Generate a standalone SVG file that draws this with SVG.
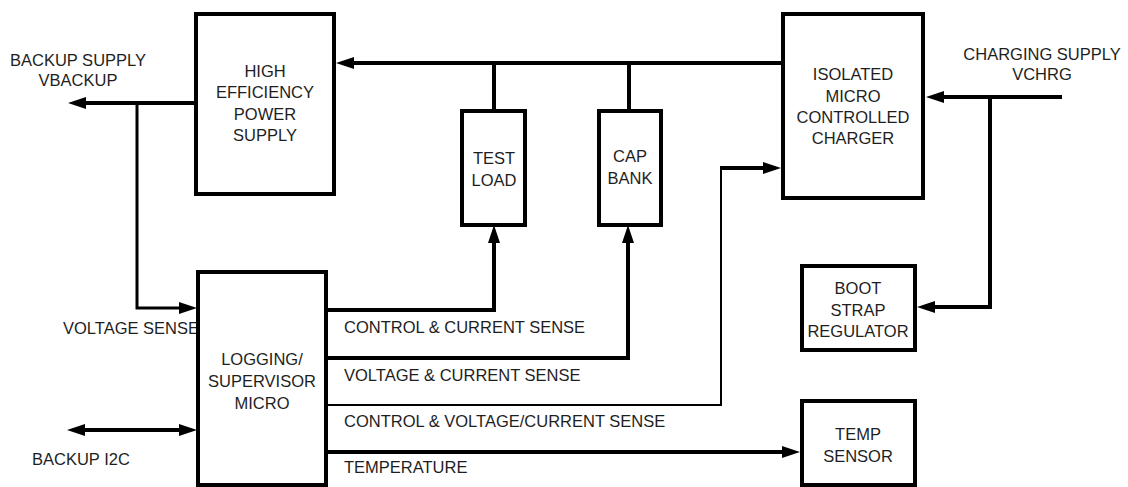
<svg xmlns="http://www.w3.org/2000/svg" width="1128" height="487" viewBox="0 0 1128 487">
<defs>
<style>
.box{fill:#fff;stroke:#000;stroke-width:4}
.t{font-family:"Liberation Sans",Arial,sans-serif;font-size:16.5px;fill:#1e1e1e}
.c{text-anchor:middle}
.w{fill:none;stroke:#000;stroke-width:4}
.thin{fill:none;stroke:#000;stroke-width:3}
.hair{fill:none;stroke:#000;stroke-width:2}
</style>
<marker id="ah" markerUnits="userSpaceOnUse" viewBox="0 0 18 12" markerWidth="18" markerHeight="12" refX="8" refY="6" orient="auto">
<path d="M0,0 L18,6 L0,12 z" fill="#000"/>
</marker>
<marker id="ahs" markerUnits="userSpaceOnUse" viewBox="0 0 18 12" markerWidth="18" markerHeight="12" refX="8" refY="6" orient="auto-start-reverse">
<path d="M0,0 L18,6 L0,12 z" fill="#000"/>
</marker>
</defs>
<rect width="1128" height="487" fill="#fff"/>

<g id="labels">
<text class="t c" x="78" y="66">BACKUP SUPPLY</text>
<text class="t c" x="78" y="86">VBACKUP</text>
<text class="t c" x="1042" y="60">CHARGING SUPPLY</text>
<text class="t c" x="1042" y="80">VCHRG</text>
<text class="t" x="63" y="334">VOLTAGE SENSE</text>
<text class="t" x="32" y="465">BACKUP I2C</text>
<text class="t" x="344" y="333">CONTROL &amp; CURRENT SENSE</text>
<text class="t" x="344" y="381">VOLTAGE &amp; CURRENT SENSE</text>
<text class="t" x="344" y="427">CONTROL &amp; VOLTAGE/CURRENT SENSE</text>
<text class="t" x="344" y="473">TEMPERATURE</text>
</g>

<g id="connectors">
<path class="w" d="M783,63 H346" marker-end="url(#ah)"/>
<path class="w" d="M494,63 V111"/>
<path class="w" d="M629,63 V111"/>
<path class="w" d="M196,103 H78" marker-end="url(#ah)"/>
<path class="thin" d="M137,103 V308 H187" marker-end="url(#ah)"/>
<path class="w" d="M77,430 H187" marker-start="url(#ahs)" marker-end="url(#ah)"/>
<path class="w" d="M326,310 H494 V235" marker-end="url(#ah)"/>
<path class="w" d="M326,358 H628 V235" marker-end="url(#ah)"/>
<path class="hair" d="M326,405 H721 V168"/>
<path class="w" d="M720,168 H771" marker-end="url(#ah)"/>
<path class="w" d="M326,452 H790" marker-end="url(#ah)"/>
<path class="w" d="M1062,97 H936" marker-end="url(#ah)"/>
<path class="w" d="M990,97 V307 H927" marker-end="url(#ah)"/>
</g>

<g id="heps">
<rect class="box" x="196" y="14" width="138" height="180"/>
<text class="t c" x="265" y="77">HIGH</text>
<text class="t c" x="265" y="98">EFFICIENCY</text>
<text class="t c" x="265" y="120">POWER</text>
<text class="t c" x="265" y="141">SUPPLY</text>
</g>

<g id="charger">
<rect class="box" x="783" y="14" width="140" height="184"/>
<text class="t c" x="853" y="80">ISOLATED</text>
<text class="t c" x="853" y="102">MICRO</text>
<text class="t c" x="853" y="123">CONTROLLED</text>
<text class="t c" x="853" y="144">CHARGER</text>
</g>

<g id="testload">
<rect class="box" x="462" y="111" width="63" height="114"/>
<text class="t c" x="494" y="164">TEST</text>
<text class="t c" x="494" y="186">LOAD</text>
</g>

<g id="capbank">
<rect class="box" x="599" y="111" width="62" height="114"/>
<text class="t c" x="630" y="162">CAP</text>
<text class="t c" x="630" y="184">BANK</text>
</g>

<g id="bootstrap">
<rect class="box" x="802" y="266" width="113" height="84"/>
<text class="t c" x="858" y="294">BOOT</text>
<text class="t c" x="858" y="316">STRAP</text>
<text class="t c" x="858" y="337">REGULATOR</text>
</g>

<g id="tempsensor">
<rect class="box" x="802" y="401" width="113" height="84"/>
<text class="t c" x="858" y="440">TEMP</text>
<text class="t c" x="858" y="462">SENSOR</text>
</g>

<g id="logging">
<rect class="box" x="198" y="272" width="128" height="213"/>
<text class="t c" x="262" y="365">LOGGING/</text>
<text class="t c" x="262" y="387">SUPERVISOR</text>
<text class="t c" x="262" y="409">MICRO</text>
</g>
</svg>
